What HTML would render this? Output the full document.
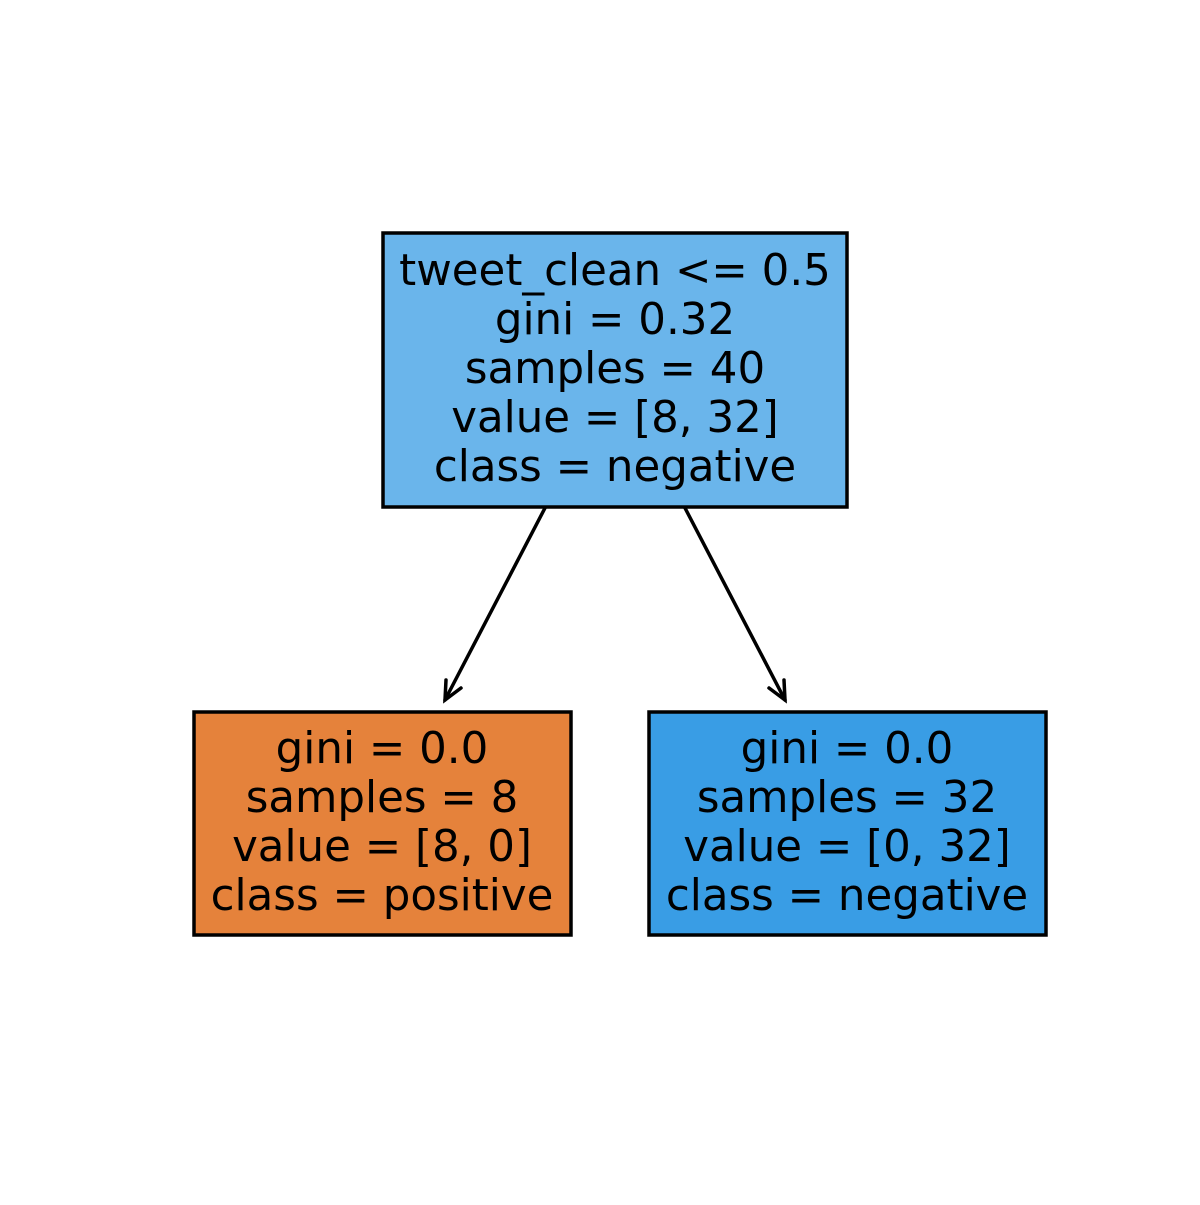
<!DOCTYPE html>
<html><head><meta charset="utf-8"><style>html,body{margin:0;padding:0;background:#fff}</style></head>
<body>
<svg width="1200" height="1200" viewBox="0 0 1200 1200" xmlns="http://www.w3.org/2000/svg" font-family="DejaVu Sans, Liberation Sans, sans-serif" font-size="43.5" text-anchor="middle">
<rect x="0" y="0" width="1200" height="1200" fill="#fff"/>
<rect x="383" y="233" width="464" height="274" fill="#6ab5eb" stroke="#000" stroke-width="3.5"/>
<rect x="194" y="712" width="377" height="223" fill="#e5823b" stroke="#000" stroke-width="3.5"/>
<rect x="649" y="712" width="397" height="223" fill="#399de5" stroke="#000" stroke-width="3.5"/>
<g stroke="#000" stroke-width="3.5" fill="none" stroke-linecap="round">
<line x1="545" y1="508" x2="445" y2="700"/>
<polyline points="446,680 445,700 461,688"/>
<line x1="685" y1="508" x2="785" y2="700"/>
<polyline points="769,688 785,700 784,680"/>
</g>
<g dominant-baseline="central" fill="#000">
<text x="615" y="271">tweet_clean &lt;= 0.5</text>
<text x="615" y="320">gini = 0.32</text>
<text x="615" y="369">samples = 40</text>
<text x="615" y="418">value = [8, 32]</text>
<text x="615" y="467">class = negative</text>
<text x="382" y="749">gini = 0.0</text>
<text x="382" y="798">samples = 8</text>
<text x="382" y="847">value = [8, 0]</text>
<text x="382" y="896">class = positive</text>
<text x="847" y="749">gini = 0.0</text>
<text x="847" y="798">samples = 32</text>
<text x="847" y="847">value = [0, 32]</text>
<text x="847" y="896">class = negative</text>
</g>
</svg>
</body></html>
